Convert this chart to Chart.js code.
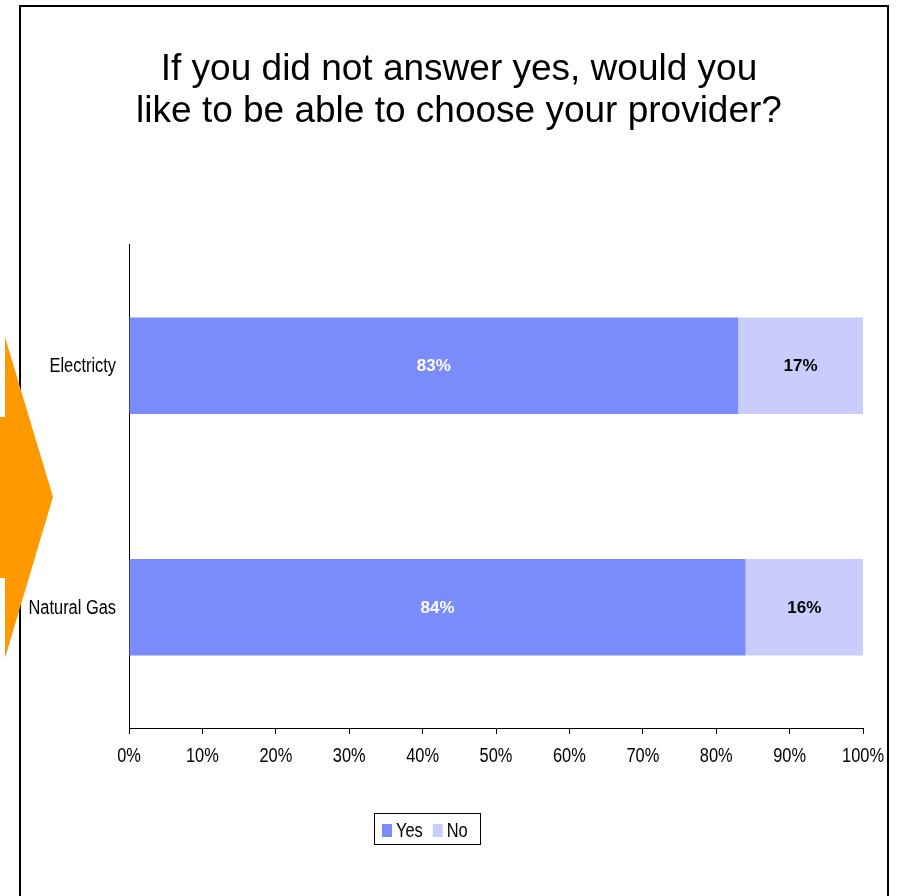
<!DOCTYPE html>
<html>
<head>
<meta charset="utf-8">
<title>Choose your provider</title>
<script src="https://cdn.jsdelivr.net/npm/chart.js@4.4.1/dist/chart.umd.min.js"></script>
<style>
  html, body { margin: 0; padding: 0; background: #fff; }
  #wrap { width: 901px; height: 896px; }
</style>
</head>
<body>
<div id="wrap"><canvas id="providerChart" width="901" height="896"></canvas></div>
<script>
// survey answers, percent of respondents
const categories = ['Electricty', 'Natural Gas'];
const yesValues = [83, 84];
const noValues = [17, 16];
const xTicks = [0, 10, 20, 30, 40, 50, 60, 70, 80, 90, 100];

const YES_COLOR = '#7a8bfb';
const NO_COLOR = '#c8cdfb';
const SANS = "'Liberation Sans', Arial, sans-serif";
const NARROW_FONT = '20px ' + SANS;
const SQUEEZE = 0.82; // horizontal squeeze for the narrow axis / legend text

function narrowText(ctx, text, x, y, align) {
  ctx.save();
  ctx.translate(x, y);
  ctx.scale(SQUEEZE, 1);
  ctx.font = NARROW_FONT;
  ctx.textAlign = align;
  ctx.textBaseline = 'middle';
  ctx.fillStyle = '#000';
  ctx.fillText(text, 0, 0);
  ctx.restore();
}

// page frame, orange arrow and the boxed legend
const decorations = {
  id: 'decorations',
  beforeDraw(chart) {
    const ctx = chart.ctx;
    ctx.save();
    ctx.fillStyle = '#fff';
    ctx.fillRect(0, 0, chart.width, chart.height);
    ctx.strokeStyle = '#000';
    ctx.lineWidth = 2;
    ctx.strokeRect(20, 6, 868, 920);
    ctx.restore();
  },
  afterDraw(chart) {
    const ctx = chart.ctx;
    ctx.save();
    // arrow pointing at the chart
    ctx.fillStyle = '#ff9900';
    ctx.beginPath();
    ctx.moveTo(0, 417);
    ctx.lineTo(5, 417);
    ctx.lineTo(5, 337);
    ctx.lineTo(53, 497);
    ctx.lineTo(5, 658);
    ctx.lineTo(5, 578);
    ctx.lineTo(0, 578);
    ctx.closePath();
    ctx.fill();

    // legend
    ctx.font = NARROW_FONT;
    const items = chart.data.datasets.map(ds => ({
      label: ds.label,
      color: ds.backgroundColor,
      w: ctx.measureText(ds.label).width * SQUEEZE
    }));
    let total = 0;
    items.forEach((it, i) => { total += 14 + it.w + (i ? 10 : 0); });
    const boxW = Math.round(total + 20);
    const boxX = Math.round(427 - boxW / 2);
    const boxY = 813;
    ctx.strokeStyle = '#000';
    ctx.lineWidth = 1;
    ctx.strokeRect(boxX + 0.5, boxY + 0.5, boxW, 31);
    let x = boxX + 8;
    items.forEach(it => {
      ctx.fillStyle = it.color;
      ctx.fillRect(x, 824, 10, 13);
      narrowText(ctx, it.label, x + 14, 831, 'left');
      x += 14 + it.w + 10;
    });
    ctx.restore();
  }
};

// axis labels, placed through the chart's scales
const axisLabels = {
  id: 'axisLabels',
  afterDraw(chart) {
    const ctx = chart.ctx;
    const xs = chart.scales.x;
    const ys = chart.scales.y;
    xs.ticks.forEach(t => {
      narrowText(ctx, t.value + '%', xs.getPixelForValue(t.value), xs.top + 28, 'center');
    });
    ys.ticks.forEach((t, i) => {
      narrowText(ctx, chart.data.labels[i], ys.right - 13, ys.getPixelForTick(i) + 1, 'right');
    });
  }
};

// percentage printed in the middle of each bar segment
const barLabels = {
  id: 'barLabels',
  afterDatasetsDraw(chart) {
    const ctx = chart.ctx;
    ctx.save();
    ctx.font = 'bold 17px ' + SANS;
    ctx.textAlign = 'center';
    ctx.textBaseline = 'middle';
    chart.data.datasets.forEach((ds, di) => {
      chart.getDatasetMeta(di).data.forEach((bar, i) => {
        ctx.fillStyle = di === 0 ? '#ffffff' : '#000000';
        ctx.fillText(ds.data[i] + '%', (bar.x + bar.base) / 2, bar.y + 1);
      });
    });
    ctx.restore();
  }
};

new Chart(document.getElementById('providerChart'), {
  type: 'bar',
  data: {
    labels: categories,
    datasets: [
      { label: 'Yes', data: yesValues, backgroundColor: YES_COLOR },
      { label: 'No', data: noValues, backgroundColor: NO_COLOR }
    ]
  },
  options: {
    indexAxis: 'y',
    responsive: false,
    animation: false,
    layout: { padding: { top: 0, left: 55, right: 38, bottom: 100 } },
    datasets: { bar: { categoryPercentage: 1, barPercentage: 0.4 } },
    scales: {
      x: {
        stacked: true,
        min: 0,
        max: 100,
        afterFit(scale) { scale.height = 68; },
        afterBuildTicks(scale) { scale.ticks = xTicks.map(v => ({ value: v })); },
        ticks: { display: false },
        grid: { drawOnChartArea: false, color: '#000', tickLength: 6 },
        border: { display: true, color: '#000', width: 1 }
      },
      y: {
        stacked: true,
        afterFit(scale) { scale.width = 74; },
        ticks: { display: false },
        grid: { display: false, drawTicks: false },
        border: { display: true, color: '#000', width: 1 }
      }
    },
    plugins: {
      legend: { display: false },
      tooltip: { enabled: false },
      title: {
        display: true,
        text: ['If you did not answer yes, would you', 'like to be able to choose your provider?'],
        color: '#000',
        font: { family: SANS, size: 37, weight: 'normal', lineHeight: 1.135 },
        padding: { top: 49, bottom: 112 }
      }
    }
  },
  plugins: [decorations, axisLabels, barLabels]
});
</script>
</body>
</html>
